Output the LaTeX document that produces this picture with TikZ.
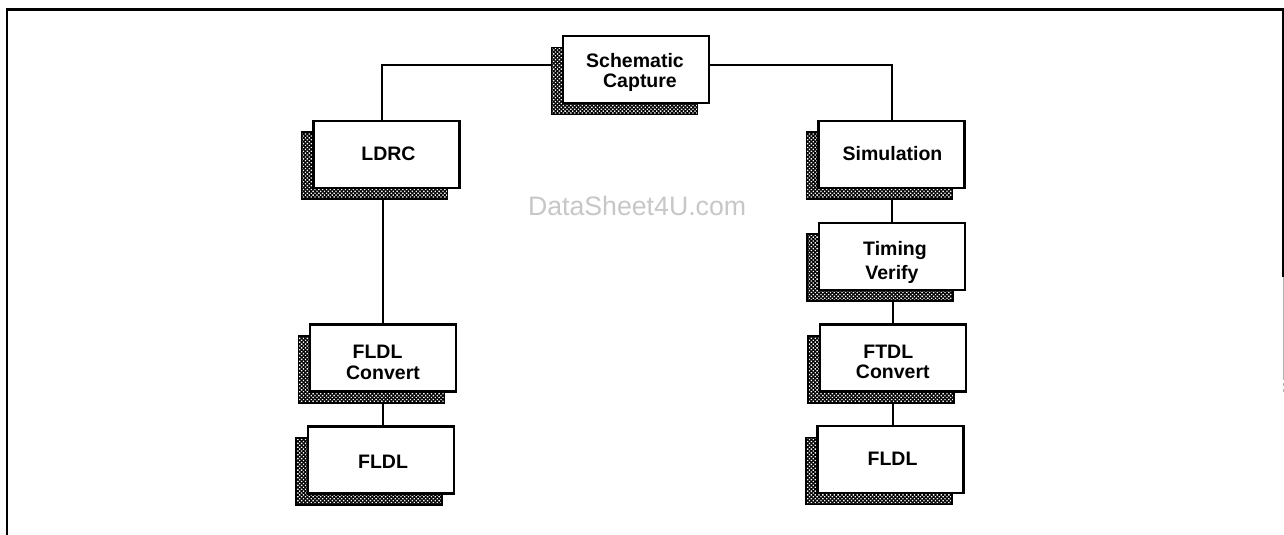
\documentclass[tikz,border=0pt]{standalone}
\usepackage{fontspec}
\setmainfont{Liberation Sans}
\usetikzlibrary{patterns.meta}
\newcommand\oneln[2]{\raisebox{#1pt}[0pt][0pt]{#2}}
\newcommand\twoln[3]{\raisebox{#1pt}[0pt][0pt]{\fontsize{19.5}{#2}\selectfont\bfseries\begin{tabular}[b]{@{}c@{}}#3\end{tabular}}}
\tikzset{
  x=1pt,y=-1pt,
  boxnode/.style={draw=black,line width=2.3pt,fill=white,rectangle,minimum width=146pt,minimum height=67pt,inner sep=0pt,outer sep=0pt,font=\fontsize{19.5}{20}\selectfont\bfseries},
  shadowbox/.style={draw=black,line width=1.8pt,rectangle,minimum width=146pt,minimum height=67pt,inner sep=0pt,outer sep=0pt,preaction={fill=black},pattern={Dots[distance=2.7pt,radius=0.95pt,angle=45]},pattern color=white},
  conn/.style={draw=black,line width=2pt,line join=miter},
  frameline/.style={draw=black,line width=2.4pt,line join=miter},
  watermark/.style={text=black!22,font=\fontsize{26.7}{28}\selectfont,inner sep=0pt,outer sep=0pt,anchor=base west}
}
\begin{document}
\begin{tikzpicture}
\useasboundingbox (0,0) rectangle (1284,535);
\fill[white] (0,0) rectangle (1284,535);
% frame
\coordinate (f1) at (7,535);
\coordinate (f2) at (7,9.5);
\coordinate (f3) at (1283,9.5);
\coordinate (f4) at (1283,277);
\coordinate (f5) at (1283,377);
\coordinate (f6) at (1283,395);
\draw[frameline] (f1) -- (f2) -- (f3) -- (f4);
\draw[draw=black!30,line width=1pt] (f4) -- (f5);
\draw[draw=black!30,line width=1pt,dashed] (f5) -- (f6);
% shadows
\node[shadowbox] (schS) at (624.5,81) {};
\node[shadowbox] (ldrS) at (374.5,165.5) {};
\node[shadowbox] (simS) at (879.5,165.5) {};
\node[shadowbox] (timS) at (880,267.5) {};
\node[shadowbox] (ftdS) at (881,369.5) {};
\node[shadowbox] (flcS) at (371.5,369.5) {};
\node[shadowbox] (fl1S) at (369,471.5) {};
\node[shadowbox] (fl2S) at (879,471) {};
% boxes
\node[boxnode] (sch) at (636,69.5) {\twoln{-17.5}{19}{\kern-2pt Schematic\\\kern8pt Capture}};
\node[boxnode] (ldr) at (386.5,154.5) {\oneln{-5.5}{\kern4pt LDRC}};
\node[boxnode] (sim) at (891.5,154.5) {\oneln{-5.5}{\kern2pt Simulation}};
\node[boxnode] (tim) at (892,256.5) {\twoln{-22.5}{24}{\kern6pt Timing\\Verify}};
\node[boxnode] (ftd) at (892.75,358) {\twoln{-20}{20}{\kern-9pt FTDL\\Convert}};
\node[boxnode] (flc) at (383,358) {\twoln{-21}{21}{\kern-11pt FLDL\\Convert}};
\node[boxnode] (fl1) at (381,460) {\oneln{-8}{\kern4pt FLDL}};
\node[boxnode] (fl2) at (890.5,459.5) {\oneln{-5.5}{\kern4pt FLDL}};
% connectors
\draw[conn] ([yshift=16pt]schS.west) -| ([xshift=-4.5pt]ldr.north);
\draw[conn] ([yshift=4.5pt]sch.east) -| (sim.north);
\draw[conn] (ldrS.south -| flc.north) -- (flc.north);
\draw[conn] (flcS.south -| flc.south) -- (flc.south |- fl1.north);
\draw[conn] (simS.south -| tim.north) -- (tim.north);
\draw[conn] (timS.south -| ftd.north) -- (ftd.north);
\draw[conn] (ftdS.south -| ftd.south) -- (ftd.south |- fl2.north);
% watermark
\node[watermark] (wm) at (528,215) {DataSheet4U.com};
\end{tikzpicture}
\end{document}
